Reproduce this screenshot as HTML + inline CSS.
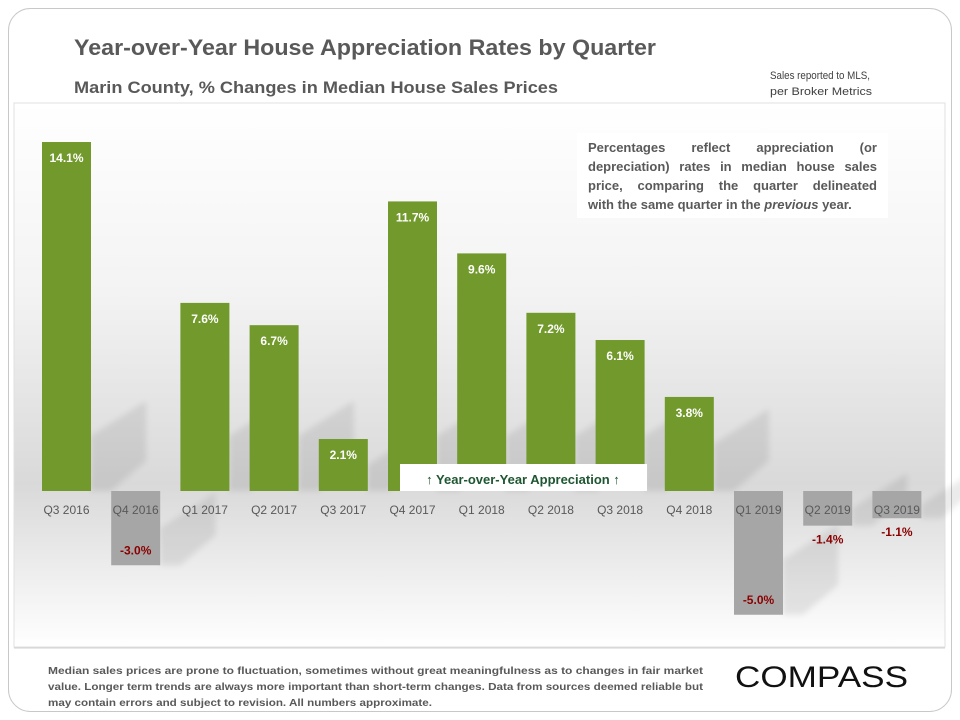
<!DOCTYPE html>
<html><head><meta charset="utf-8"><style>
body{margin:0;background:#fff;width:960px;height:720px;overflow:hidden;font-family:"Liberation Sans",sans-serif;position:relative;}
svg text{font-family:"Liberation Sans",sans-serif;}
#note{position:absolute;left:577px;top:133px;width:289px;height:80px;padding:5px 11px 0 11px;background:#fff;font-size:13px;font-weight:bold;color:#595959;line-height:19px;box-sizing:content-box;}
#note .ln{text-align:justify;text-align-last:justify;white-space:nowrap;}
#note .last{text-align:left;text-align-last:left;white-space:nowrap;}
</style></head><body>
<svg id="chart" width="960" height="720" viewBox="0 0 960 720" style="position:absolute;left:0;top:0">
<defs>
<linearGradient id="bg" x1="0" y1="0" x2="0" y2="1">
<stop offset="0" stop-color="#ffffff"/><stop offset="0.35" stop-color="#f3f3f3"/><stop offset="0.7" stop-color="#d9d9d9"/><stop offset="1" stop-color="#ffffff"/>
</linearGradient>
<filter id="blur"><feGaussianBlur stdDeviation="3"/></filter>
</defs>
<rect x="8.5" y="8.5" width="943" height="703" rx="22" fill="#fff" stroke="#c8c8c8"/>
<rect x="14" y="103" width="931" height="544" fill="url(#bg)" stroke="#e0e0e0"/>
<line x1="14" y1="648" x2="945" y2="648" stroke="#d0d0d0"/>
<text x="74" y="55" font-size="22" font-weight="bold" fill="#595959" textLength="582" lengthAdjust="spacingAndGlyphs">Year-over-Year House Appreciation Rates by Quarter</text>
<text x="74" y="93" font-size="17" font-weight="bold" fill="#595959" textLength="484" lengthAdjust="spacingAndGlyphs">Marin County, % Changes in Median House Sales Prices</text>
<text x="770" y="79" font-size="11" fill="#404040" textLength="100" lengthAdjust="spacingAndGlyphs">Sales reported to MLS,</text>
<text x="770" y="95" font-size="11" fill="#404040" textLength="102" lengthAdjust="spacingAndGlyphs">per Broker Metrics</text>
<g id="shadows" filter="url(#blur)"></g>
<g id="bars"></g>
<rect x="400" y="464" width="247" height="27" fill="#fff"/>
<text x="523" y="484" font-size="13" font-weight="bold" fill="#1e5631" text-anchor="middle">↑ Year-over-Year Appreciation ↑</text>
<g font-family="'Liberation Sans Narrow','Liberation Sans',sans-serif" font-size="10" font-weight="bold" fill="#595959">
<text x="48" y="674" textLength="655" lengthAdjust="spacingAndGlyphs">Median sales prices are prone to fluctuation, sometimes without great meaningfulness as to changes in fair market</text>
<text x="48" y="690" textLength="655" lengthAdjust="spacingAndGlyphs">value. Longer term trends are always more important than short-term changes. Data from sources deemed reliable but</text>
<text x="48" y="706" textLength="384" lengthAdjust="spacingAndGlyphs">may contain errors and subject to revision. All numbers approximate.</text>
</g>
<text x="735" y="687" font-size="30" fill="#111" textLength="173" lengthAdjust="spacingAndGlyphs">COMPASS</text>
</svg>
<div id="note"><div class="ln">Percentages reflect appreciation (or</div><div class="ln">depreciation) rates in median house sales</div><div class="ln">price, comparing the quarter delineated</div><div class="last">with the same quarter in the <i>previous</i> year.</div></div>
<script>
const categories=["Q3 2016","Q4 2016","Q1 2017","Q2 2017","Q3 2017","Q4 2017","Q1 2018","Q2 2018","Q3 2018","Q4 2018","Q1 2019","Q2 2019","Q3 2019"];
const values=[14.1,-3.0,7.6,6.7,2.1,11.7,9.6,7.2,6.1,3.8,-5.0,-1.4,-1.1];
const valueLabels=["14.1%","-3.0%","7.6%","6.7%","2.1%","11.7%","9.6%","7.2%","6.1%","3.8%","-5.0%","-1.4%","-1.1%"];
const NS="http://www.w3.org/2000/svg";
const zeroY=491, pxPer=24.75, x0=66.5, step=69.2, bw=49;
function yScale(v){return zeroY - v*pxPer;}
function xScale(i){return x0 + i*step;}
const g=document.getElementById('bars');
const gs=document.getElementById('shadows');
function mk(parent,tag,attrs){const e=document.createElementNS(NS,tag);for(const k in attrs)e.setAttribute(k,attrs[k]);parent.appendChild(e);return e;}
values.forEach((v,i)=>{
  const cx=xScale(i), y1=yScale(Math.max(v,0)), y2=yScale(Math.min(v,0));
  const h=Math.min(y2-y1,110);
  const rx=cx+bw/2;
  const sh=mk(gs,'polygon',{points:`${rx},${y2} ${rx},${y2-h*0.5} ${rx+55},${y2-h*0.5-35} ${rx+55},${y2-30} ${rx+20},${y2}`,fill:'#000',opacity:0.08});
  
  
  const r=mk(g,'rect',{x:cx-bw/2,y:y1,width:bw,height:y2-y1,fill:v>=0?'#71992b':'#a6a6a6'});
  
  
  let ly, col;
  if(v>=0){ly=y1+20;col='#fff';}
  else if(y2-y1>60){ly=y2-11;col='#8b0000';}
  else {ly=y2+18;col='#8b0000';}
  const t=mk(g,'text',{x:cx,y:ly,'text-anchor':'middle','font-size':12,'font-weight':'bold',fill:col});
  t.textContent=valueLabels[i];
  
  
  const c=mk(g,'text',{x:cx,y:zeroY+23,'text-anchor':'middle','font-size':12,fill:'#595959'});
  c.textContent=categories[i];
  
  
});
</script>
</body></html>
